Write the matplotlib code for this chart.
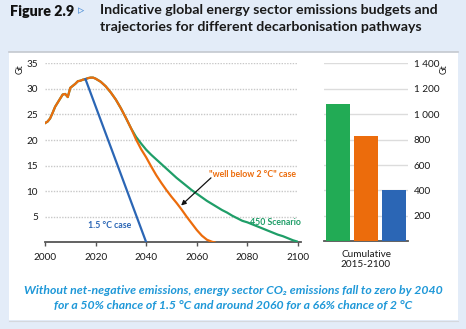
import matplotlib.pyplot as plt
from matplotlib.patches import Rectangle
from matplotlib.lines import Line2D

plt.rcParams['font.family'] = ['Lato', 'DejaVu Sans']

# emissions trajectories (Gt CO2)
years_2c = [2000, 2001, 2002, 2003, 2004, 2005, 2006, 2007, 2008, 2009, 2010,
            2011, 2012, 2013, 2014, 2015, 2016, 2017, 2018, 2019, 2020, 2022,
            2024, 2026, 2028, 2030, 2032, 2034, 2036, 2038, 2040, 2042, 2044,
            2046, 2048, 2050, 2052, 2054, 2056, 2058, 2060, 2062, 2064, 2066, 2067]
wb2c = [23.3, 23.6, 24.2, 25.3, 26.5, 27.3, 28.1, 28.9, 29.0, 28.4, 30.2,
        30.6, 31.0, 31.5, 31.6, 31.8, 31.9, 32.1, 32.2, 32.2, 32.0, 31.4,
        30.5, 29.3, 27.9, 26.2, 24.3, 22.3, 20.1, 18.2, 16.6, 14.8, 13.1,
        11.6, 10.2, 8.9, 7.7, 6.4, 5.0, 3.7, 2.4, 1.3, 0.5, 0.1, 0.0]

years_450 = years_2c[:28] + [2036, 2038, 2040, 2042, 2044, 2046, 2048, 2050,
                             2052, 2054, 2056, 2058, 2060, 2062, 2064, 2066,
                             2068, 2070, 2072, 2074, 2076, 2078, 2080, 2082,
                             2084, 2086, 2088, 2090, 2092, 2094, 2096, 2098, 2100]
s450 = wb2c[:28] + [20.6, 19.3, 18.1, 17.1, 16.2, 15.3, 14.4, 13.5,
                    12.6, 11.8, 11.0, 10.2, 9.5, 8.8, 8.1, 7.5,
                    6.9, 6.3, 5.8, 5.2, 4.7, 4.2, 3.9, 3.5,
                    3.1, 2.7, 2.3, 1.9, 1.5, 1.2, 0.8, 0.4, 0.1]

years_15 = [2016, 2040]
c15 = [31.9, 0.0]

# cumulative budgets 2015-2100 (Gt)
bar_names = ['450 Scenario', 'well below 2 °C', '1.5 °C']
bar_vals = [1080, 830, 400]

c_green_line = '#1f9e68'
c_green = '#22ab55'
c_orange = '#ec6c0c'
c_blue = '#2b66b5'
c_text = '#1a1a1a'

fig = plt.figure(figsize=(4.66, 3.29), dpi=100, facecolor='#e3ecf8')
W, H = 466, 329

def fx(px):
    return px / W

def fy(py):
    return 1 - py / H

# white panel
fig.patches.append(Rectangle((fx(9), fy(320)), fx(458) - fx(9), fy(52) - fy(320),
                             transform=fig.transFigure, facecolor='white',
                             edgecolor='none', zorder=-2))
fig.lines.append(Line2D([fx(9), fx(458)], [fy(52), fy(52)], transform=fig.transFigure,
                        color='#c4c8cf', lw=1.2, zorder=-1))
fig.lines.append(Line2D([fx(9), fx(458)], [fy(320.5), fy(320.5)], transform=fig.transFigure,
                        color='#d4d8de', lw=0.8, zorder=-1))

# title
fig.text(fx(10), fy(11), 'Figure 2.9', fontsize=10.3, fontweight='heavy', color='#111111',
         va='center', ha='left')
fig.text(fx(78), fy(11), '▹', fontsize=9, color='#4f8fd6', va='center', ha='left',
         family=['DejaVu Sans'])
fig.text(fx(100), fy(10), 'Indicative global energy sector emissions budgets and',
         fontsize=10.2, fontweight='bold', color='#1a1a1a', va='center', ha='left')
fig.text(fx(100), fy(27), 'trajectories for different decarbonisation pathways',
         fontsize=10.2, fontweight='bold', color='#1a1a1a', va='center', ha='left')

# line chart
ax = fig.add_axes([fx(45), fy(242.3), fx(298) - fx(45), fy(63.3) - fy(242.3)])
ax.set_facecolor('none')
ax.plot(years_450, s450, color=c_green_line, lw=1.6, zorder=3)
ax.plot(years_2c, wb2c, color=c_orange, lw=1.6, zorder=4)
ax.plot(years_15, c15, color=c_blue, lw=1.6, zorder=5)
ax.set_xlim(2000, 2100)
ax.set_ylim(0, 35)
ax.set_xticks(range(2000, 2101, 20))
ax.set_yticks(range(5, 36, 5))
ax.grid(axis='y', color='#c8c8c8', ls=(0, (1, 1)), lw=1)
ax.set_axisbelow(True)
for s in ['top', 'right', 'left']:
    ax.spines[s].set_visible(False)
ax.spines['bottom'].set_color('#555555')
ax.spines['bottom'].set_linewidth(1.3)
ax.spines['bottom'].set_bounds(2000, 2101)
ax.tick_params(axis='x', length=3, width=1, color='#555555', labelsize=7.2,
               labelcolor=c_text, pad=5)
ax.tick_params(axis='y', length=0, labelsize=7.2, labelcolor=c_text, pad=5)
ax.text(-0.1, 0.97, 'Gt', transform=ax.transAxes, rotation=90, fontsize=6.5,
        color=c_text, ha='center', va='center')

ax.text(2017, 3.3, '1.5 °C case', color=c_blue, fontsize=6.3, fontweight='bold',
        ha='left', va='center')
ax.text(2065, 13.2, '"well below 2 °C" case', color=c_orange, fontsize=6.3,
        fontweight='bold', ha='left', va='center')
ax.annotate('', xy=(2053.8, 7.2), xytext=(2065.6, 12.6),
            arrowprops=dict(arrowstyle='-|>', color='#111111', lw=0.9,
                            mutation_scale=7, shrinkA=0, shrinkB=0))
ax.text(2101, 3.9, '450 Scenario', color=c_green_line, fontsize=6.3,
        fontweight='bold', ha='right', va='center')

# cumulative bars
bx = fig.add_axes([fx(324), fy(241.3), fx(408) - fx(324), fy(63.3) - fy(241.3)])
bx.set_facecolor('none')
bx.bar(range(len(bar_vals)), bar_vals, width=0.86,
       color=[c_green, c_orange, c_blue], zorder=3)
bx.set_xlim(-0.5, 2.5)
bx.set_ylim(0, 1400)
bx.set_yticks(range(200, 1401, 200))
bx.set_yticklabels([f'{v:,}'.replace(',', ' ') for v in range(200, 1401, 200)])
bx.yaxis.tick_right()
bx.grid(axis='y', color='#dcdcdc', lw=1)
bx.set_axisbelow(True)
for s in ['top', 'right', 'left']:
    bx.spines[s].set_visible(False)
bx.spines['bottom'].set_color('#555555')
bx.spines['bottom'].set_linewidth(1.3)
bx.set_xticks([1])
bx.set_xticklabels(['Cumulative\n2015-2100'])
bx.tick_params(axis='x', length=0, labelsize=7.2, labelcolor=c_text, pad=6)
bx.tick_params(axis='y', length=0, labelsize=7.2, labelcolor=c_text, pad=4)
bx.text(1.43, 0.97, 'Gt', transform=bx.transAxes, rotation=90, fontsize=6.5,
        color=c_text, ha='center', va='center')

# caption
cap_color = '#1f98d8'
fig.text(0.5, fy(290), 'Without net-negative emissions, energy sector CO₂ emissions fall to zero by 2040',
         fontsize=8.8, fontstyle='italic', fontweight='bold', color=cap_color,
         ha='center', va='center')
fig.text(0.5, fy(305), 'for a 50% chance of 1.5 °C and around 2060 for a 66% chance of 2 °C',
         fontsize=8.8, fontstyle='italic', fontweight='bold', color=cap_color,
         ha='center', va='center')

fig.savefig('out.png', dpi=100, facecolor=fig.get_facecolor())
